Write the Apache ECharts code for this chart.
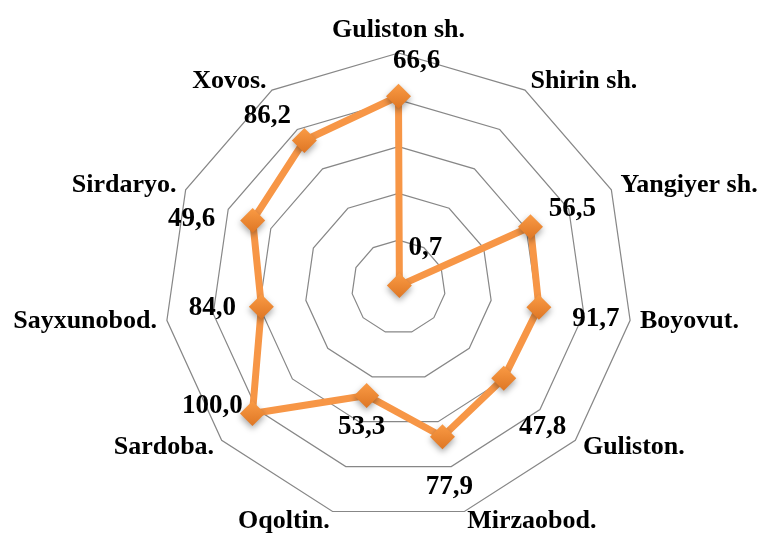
<!DOCTYPE html>
<html>
<head>
<meta charset="utf-8">
<script src="https://cdn.jsdelivr.net/npm/echarts@6/dist/echarts.min.js"></script>
<style>
  html, body { margin: 0; padding: 0; background: #fff; }
  #chart { width: 764px; height: 534px; }
</style>
</head>
<body>
<div id="chart"></div>
<script>
// tumanlar
const categories = ['Guliston sh.', 'Shirin sh.', 'Yangiyer sh.', 'Boyovut.', 'Guliston.',
  'Mirzaobod.', 'Oqoltin.', 'Sardoba.', 'Sayxunobod.', 'Sirdaryo.', 'Xovos.']
// plotted radius of each point (scale 0..100)
const values = [81.5, 0.7, 62.0, 60.6, 59.5, 66.7, 48.3, 82.6, 59.2, 68.5, 74.4]
// data labels as printed in the picture
const labels = ['66,6', '0,7', '56,5', '91,7', '47,8', '77,9', '53,3', '100,0', '84,0', '49,6', '86,2']

// label offsets from marker (layout only)
const labelOffsets = [[18, -35], [26, -38], [42, -18], [57, 12], [39, 49], [7, 50],
  [-5, 32], [-40, -8], [-49, 1], [-61, -1], [-37, -25]]

const center = [398.5, 287]
const radius = 234
const font = 'Liberation Serif'

// radar goes counterclockwise, so feed the categories in reverse after the first
const order = categories.map((c, k) => (categories.length - k) % categories.length)

let chart = echarts.init(document.getElementById('chart'))
let option = {
  animation: false,
  radar: {
    center: center,
    radius: radius,
    startAngle: 90,
    shape: 'polygon',
    splitNumber: 5,
    indicator: order.map(i => ({ name: categories[i], min: 0, max: 100 })),
    axisName: {
      color: '#000',
      fontFamily: font,
      fontWeight: 'bold',
      fontSize: 26
    },
    nameGap: 10,
    axisLine: { show: false },
    axisTick: { show: false },
    axisLabel: { show: false },
    splitArea: { show: false },
    splitLine: { lineStyle: { color: '#878787', width: 1.2 } }
  },
  polar: { center: center, radius: radius },
  angleAxis: {
    type: 'category',
    data: categories,
    boundaryGap: false,
    startAngle: 90,
    clockwise: true,
    axisLine: { show: false },
    axisTick: { show: false },
    axisLabel: { show: false },
    splitLine: { show: false }
  },
  radiusAxis: {
    min: 0,
    max: 100,
    axisLine: { show: false },
    axisTick: { show: false },
    axisLabel: { show: false },
    splitLine: { show: false }
  },
  series: [
    {
      type: 'radar',
      symbol: 'diamond',
      symbolSize: 25,
      z: 3,
      lineStyle: { color: '#F79646', width: 7 },
      itemStyle: {
        color: new echarts.graphic.LinearGradient(0, 0, 0, 1, [
          { offset: 0, color: '#FA9B45' },
          { offset: 1, color: '#DE7624' }
        ]),
        shadowBlur: 6,
        shadowOffsetY: 3,
        shadowColor: 'rgba(0,0,0,0.35)'
      },
      data: [{ value: order.map(i => values[i]) }]
    },
    {
      type: 'scatter',
      coordinateSystem: 'polar',
      symbolSize: 1,
      z: 5,
      itemStyle: { color: 'rgba(0,0,0,0)', opacity: 1 },
      label: {
        show: true,
        position: 'inside',
        color: '#000',
        textBorderWidth: 0,
        fontFamily: font,
        fontWeight: 'bold',
        fontSize: 27
      },
      data: values.map((v, i) => ({
        value: [v, i],
        label: { offset: labelOffsets[i], formatter: labels[i] }
      }))
    }
  ]
}
chart.setOption(option)
</script>
</body>
</html>
